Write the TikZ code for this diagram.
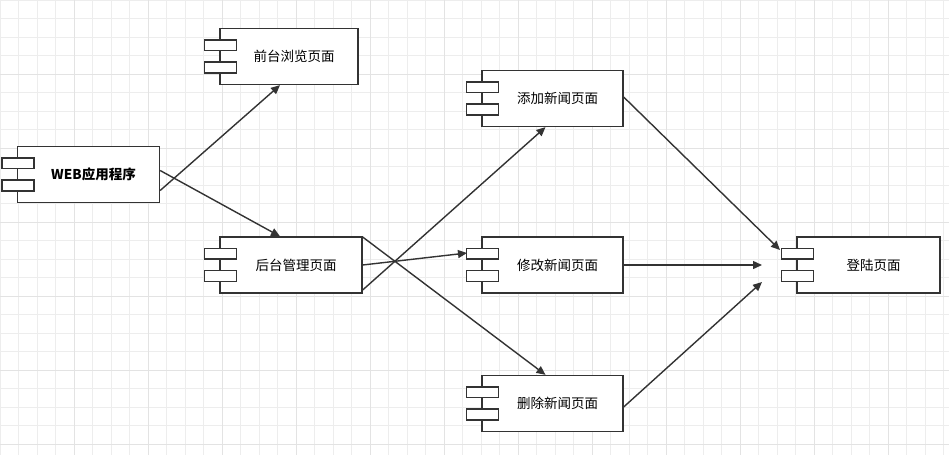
\documentclass[tikz,border=0pt]{standalone}
\usepackage{fontspec}
\setmainfont{Noto Sans CJK SC}
\usetikzlibrary{arrows.meta}
\definecolor{ln}{HTML}{333333}
\begin{document}
\begin{tikzpicture}[x=1pt,y=-1pt,
  comp/.style={draw=ln,line width=1.3pt,fill=white,minimum width=142pt,minimum height=56pt,inner sep=0pt,font=\fontsize{13.5}{15}\selectfont},
  tab/.style={draw=ln,line width=1.3pt,fill=white},
  arr/.style={draw=ln,line width=1.4pt,-{Triangle[length=9pt,width=8pt]}}]
\useasboundingbox (0,0) rectangle (949,455);
\fill[white] (0,0) rectangle (949,455);
\foreach \x in {0,18.5,...,949} \draw[black!7,line width=0.6pt] (\x,0) -- (\x,455);
\foreach \y in {0,18.5,...,455} \draw[black!7,line width=0.6pt] (0,\y) -- (949,\y);
\foreach \x in {74,148,...,949} \draw[black!11,line width=0.8pt] (\x,0) -- (\x,455);
\foreach \y in {74,148,...,455} \draw[black!11,line width=0.8pt] (0,\y) -- (949,\y);

\node[comp] (web) at (88.5,174.5) {\hspace{10pt}\textbf{WEB应用程序}};
\node[comp,minimum width=138pt] (qt) at (289,56.5) {\hspace{10pt}前台浏览页面};
\node[comp] (ht) at (291,265) {\hspace{10pt}后台管理页面};
\node[comp,minimum width=141pt] (tj) at (552.5,98.5) {\hspace{10pt}添加新闻页面};
\node[comp,minimum width=141pt] (xg) at (552.5,265) {\hspace{10pt}修改新闻页面};
\node[comp,minimum width=141pt] (sc) at (552.5,403.5) {\hspace{10pt}删除新闻页面};
\node[comp,minimum width=143pt] (dl) at (868.5,265) {\hspace{10pt}登陆页面};
\foreach \n in {web,qt,ht,tj,xg,sc,dl}{
  \draw[tab] ([shift={(-15,-16.5)}]\n.west) rectangle ([shift={(17,-6)}]\n.west);
  \draw[tab] ([shift={(-15,5.5)}]\n.west) rectangle ([shift={(17,16.5)}]\n.west);
}
\coordinate (e1) at (762,265);
\coordinate (e2) at (762,282);
\coordinate (e3) at (780,250);
\coordinate (e4) at (467,253);
\draw[arr] ([yshift=-16]web.east) -- ([xshift=-9]qt.south);
\draw[arr] ([yshift=4]web.east) -- ([xshift=-11]ht.north);
\draw[arr] ([yshift=-25]ht.east) -- ([xshift=-7]tj.south);
\draw[arr] (ht.east) -- (e4);
\draw[arr] ([yshift=28]ht.east) -- ([xshift=-7]sc.north);
\draw[arr] ([yshift=1.5]tj.east) -- (e3);
\draw[arr] (xg.east) -- (e1);
\draw[arr] ([yshift=-3.5]sc.east) -- (e2);
\end{tikzpicture}
\end{document}
